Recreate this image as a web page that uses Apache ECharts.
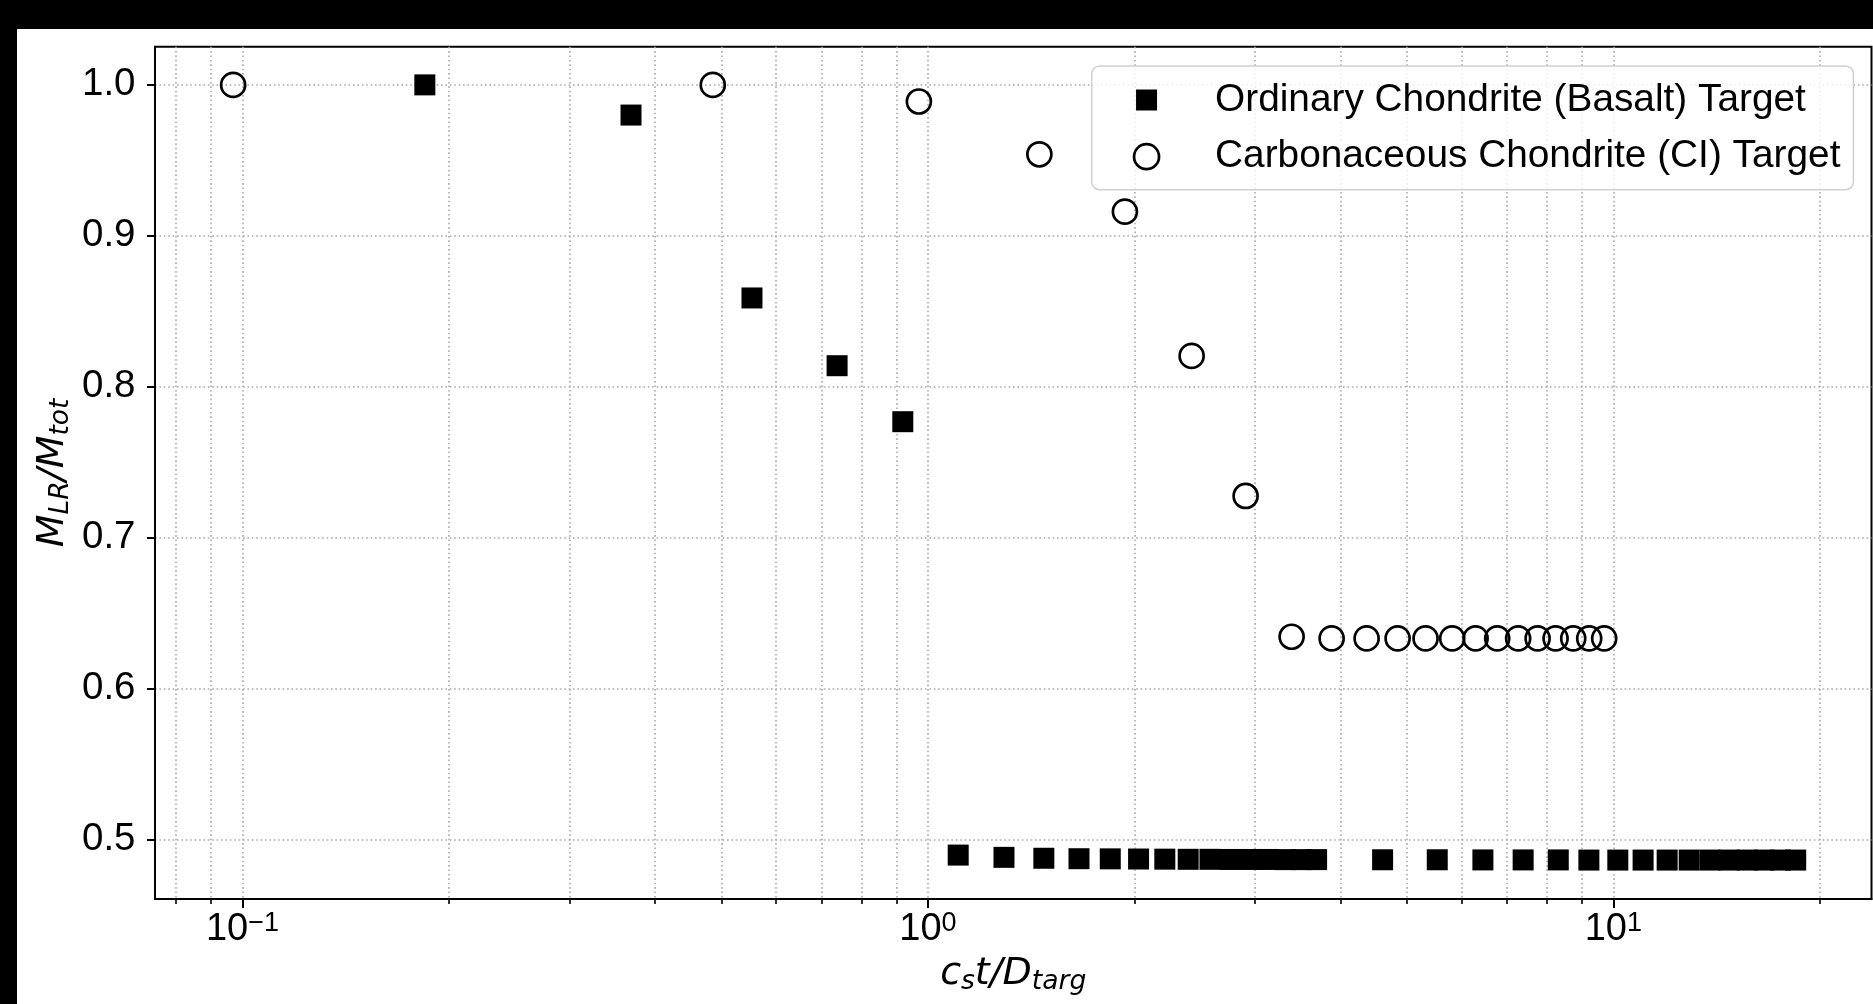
<!DOCTYPE html>
<html>
<head>
<meta charset="utf-8">
<script src="https://cdn.jsdelivr.net/npm/echarts@6/dist/echarts.min.js"></script>
<style>
html,body{margin:0;padding:0;background:#000;width:1873px;height:1004px;overflow:hidden;}
#chart{position:absolute;left:17px;top:29px;width:1856px;height:975px;background:#fff;}
</style>
</head>
<body>
<div id="chart"></div>
<script>
// ---- data ----
const basaltT = [0.1845, 0.3688, 0.5537, 0.737, 0.919, 1.107, 1.291, 1.476, 1.661, 1.845,
  2.029, 2.216, 2.397, 2.579, 2.76, 2.95, 3.137, 3.32, 3.505, 3.69,
  4.606, 5.534, 6.451, 7.385, 8.31, 9.21, 10.15, 11.05, 11.98, 12.9,
  13.84, 14.76, 15.68, 16.6, 17.53, 18.45];
const basaltM = [1.0, 0.980, 0.8588, 0.8139, 0.7768, 0.4896, 0.4881, 0.4875, 0.4872, 0.4871,
  0.4870, 0.4869, 0.4868, 0.4868, 0.4867, 0.4867, 0.4867, 0.4866, 0.4866, 0.4866,
  0.4865, 0.4865, 0.4864, 0.4864, 0.4864, 0.4863, 0.4863, 0.4863, 0.4863, 0.4863,
  0.4863, 0.4863, 0.4863, 0.4863, 0.4863, 0.4863];
const chondT = [0.0969, 0.4854, 0.970, 1.454, 1.938, 2.425, 2.907, 3.393, 3.881, 4.365,
  4.844, 5.321, 5.819, 6.295, 6.769, 7.262, 7.753, 8.235, 8.738, 9.220, 9.696];
const chondM = [1.0, 1.0, 0.989, 0.954, 0.916, 0.8204, 0.7276, 0.6343, 0.6332, 0.6332,
  0.6332, 0.6332, 0.6332, 0.6332, 0.6332, 0.6332, 0.6332, 0.6332, 0.6332, 0.6332, 0.6332];
const seriesNames = ['Ordinary Chondrite (Basalt) Target', 'Carbonaceous Chondrite (CI) Target'];
const xMajorTicks = [0.1, 1, 10];
const xMinorTicks = [0.08, 0.09, 0.2, 0.3, 0.4, 0.5, 0.6, 0.7, 0.8, 0.9,
  2, 3, 4, 5, 6, 7, 8, 9, 20];
const yTicks = [0.5, 0.6, 0.7, 0.8, 0.9, 1.0];
const xRange = [0.07453, 23.8];
const yRange = [0.4605, 1.0253];

const basaltData = basaltT.map((t, i) => [t, basaltM[i]]);
const chondData = chondT.map((t, i) => [t, chondM[i]]);

const SANS = "'Liberation Sans', Arial, Helvetica, sans-serif";
const MATH = "'DejaVu Sans', sans-serif";
const gridLine = {show: true, lineStyle: {color: '#a8a8a8', width: 1.6, type: [1.6, 2.8]}};

const chart = echarts.init(document.getElementById('chart'), null, {renderer: 'canvas'});
chart.setOption({
  animation: false,
  backgroundColor: '#fff',
  grid: {
    left: 138, top: 17.7, right: 1.5, bottom: 105,
    show: true, borderColor: '#000', borderWidth: 2, backgroundColor: 'transparent',
    containLabel: false, outerBoundsMode: 'none'
  },
  legend: {
    orient: 'vertical',
    left: 1074.7, top: 37,
    padding: [12, 13, 11, 41],
    itemGap: 12.7,
    itemWidth: 25, itemHeight: 25,
    backgroundColor: 'rgba(255,255,255,0.8)',
    borderColor: '#d0d0d0', borderWidth: 1.5, borderRadius: 8,
    selectedMode: false,
    textStyle: {fontFamily: SANS, fontSize: 38.8, color: '#000', lineHeight: 44, padding: [0, 0, 0, 51]},
    data: [
      {name: seriesNames[0], icon: 'path://M0,0L0.01,0L0.01,0.01Z M2,2L23,2L23,23L2,23Z M25,25L24.99,25L25,24.99Z',
       itemStyle: {color: '#000', borderWidth: 0}},
      {name: seriesNames[1], icon: 'circle',
       itemStyle: {color: 'transparent', borderColor: '#000', borderWidth: 2.7}}
    ]
  },
  xAxis: [
    {
      type: 'log', logBase: 10, min: xRange[0], max: xRange[1], position: 'bottom', offset: 0,
      name: '{i|c}{sub|s}{i|t/D}{sub|targ}',
      nameLocation: 'middle', nameGap: 53, nameMoveOverlap: false,
      nameTextStyle: {
        rich: {
          i: {fontFamily: MATH, fontStyle: 'italic', fontSize: 38, lineHeight: 44, color: '#000'},
          sub: {fontFamily: MATH, fontStyle: 'italic', fontSize: 26.6, lineHeight: 26, verticalAlign: 'bottom', color: '#000'}
        }
      },
      axisLine: {show: true, lineStyle: {color: '#000', width: 2}},
      axisTick: {show: true, customValues: xMajorTicks, length: 9, lineStyle: {color: '#000', width: 2}},
      axisLabel: {
        show: true, customValues: xMajorTicks, margin: 11,
        formatter: function (v) {
          const e = Math.round(Math.log10(v));
          return '{b|10}{s|' + (e < 0 ? '\u2212' + (-e) : e) + '}';
        },
        rich: {
          b: {fontFamily: SANS, fontSize: 38, lineHeight: 40, color: '#000'},
          s: {fontFamily: SANS, fontSize: 27, lineHeight: 26, verticalAlign: 'top', color: '#000'}
        }
      },
      splitLine: gridLine
    },
    {
      type: 'log', logBase: 10, min: xRange[0], max: xRange[1], position: 'bottom', offset: 0,
      axisLine: {show: false},
      axisTick: {show: true, customValues: xMinorTicks, length: 5, lineStyle: {color: '#000', width: 1.6}},
      axisLabel: {show: false},
      splitLine: gridLine
    }
  ],
  yAxis: {
    type: 'value', min: yRange[0], max: yRange[1],
    name: '{i|M}{sub|LR}{i|/M}{sub|tot}',
    nameLocation: 'middle', nameGap: 80, nameMoveOverlap: false,
    nameTextStyle: {
      rich: {
        i: {fontFamily: MATH, fontStyle: 'italic', fontSize: 38, lineHeight: 44, color: '#000'},
        sub: {fontFamily: MATH, fontStyle: 'italic', fontSize: 26.6, lineHeight: 26, verticalAlign: 'bottom', color: '#000'}
      }
    },
    axisLine: {show: true, lineStyle: {color: '#000', width: 2}},
    axisTick: {show: true, customValues: yTicks, length: 8, lineStyle: {color: '#000', width: 2}},
    axisLabel: {
      show: true, customValues: yTicks, margin: 19.5,
      fontFamily: SANS, fontSize: 38.5, color: '#000',
      formatter: v => v.toFixed(1)
    },
    splitLine: gridLine
  },
  series: [
    {
      name: seriesNames[0], type: 'scatter', xAxisIndex: 0, data: basaltData,
      symbol: 'rect', symbolSize: 21,
      itemStyle: {color: '#000', opacity: 1}, z: 3
    },
    {
      name: seriesNames[1], type: 'scatter', xAxisIndex: 0, data: chondData,
      symbol: 'circle', symbolSize: 24,
      itemStyle: {color: 'transparent', borderColor: '#000', borderWidth: 2.7, opacity: 1}, z: 4
    }
  ]
});
</script>
</body>
</html>
